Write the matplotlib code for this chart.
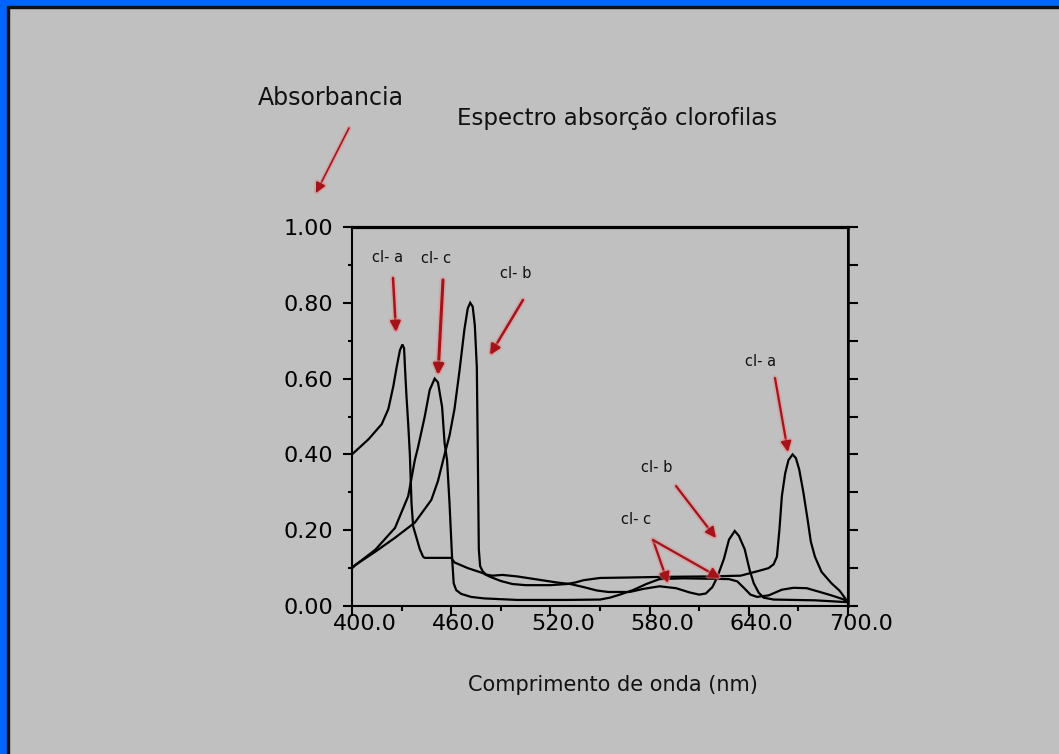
import numpy as np
import matplotlib
matplotlib.use("Agg")
import matplotlib.pyplot as plt
import matplotlib.patheffects as pe
import matplotlib.transforms as mtrans
from matplotlib.patches import Rectangle

# ---------------- data ----------------
chl_a_nm = [400, 405, 410, 414, 418, 422, 425, 427, 429, 430.5, 431.5, 432.2, 433, 434, 435, 436,
            437, 439, 441, 443, 444, 452, 460, 462, 470, 479, 483, 490, 497, 505, 520, 530, 535,
            540, 550, 565, 590, 615, 635, 642, 648, 652, 655, 657, 658.5, 660, 662, 664, 666.5,
            668.5, 670.5, 673, 675.5, 677.5, 680, 684, 690, 695, 700]
chl_a_abs = [0.40, 0.42, 0.44, 0.46, 0.48, 0.52, 0.58, 0.63, 0.675, 0.69, 0.68, 0.615, 0.55, 0.48,
             0.40, 0.27, 0.21, 0.18, 0.15, 0.13, 0.127, 0.127, 0.127, 0.115, 0.10, 0.087, 0.078,
             0.066, 0.058, 0.055, 0.055, 0.058, 0.062, 0.068, 0.074, 0.075, 0.077, 0.078, 0.08,
             0.088, 0.095, 0.10, 0.11, 0.13, 0.20, 0.29, 0.35, 0.385, 0.40, 0.39, 0.36, 0.30,
             0.23, 0.17, 0.13, 0.09, 0.06, 0.04, 0.01]

chl_b_nm = [400, 402, 414, 426, 438, 448, 452, 456, 459, 462, 465, 468, 470, 471.5, 473, 474.3,
            475.5, 476.1, 476.7, 477.5, 479, 481, 485, 491, 500, 506, 515, 524, 532, 540, 548,
            555, 568, 576, 586, 596, 604, 610, 614, 618, 621, 625, 628, 631.5, 634, 637.5,
            640.5, 643, 646, 649, 655, 680, 700]
chl_b_abs = [0.10, 0.108, 0.143, 0.18, 0.22, 0.28, 0.33, 0.40, 0.45, 0.52, 0.62, 0.73, 0.785,
             0.80, 0.79, 0.74, 0.63, 0.40, 0.15, 0.105, 0.092, 0.083, 0.08, 0.082, 0.078, 0.074,
             0.068, 0.062, 0.058, 0.05, 0.041, 0.037, 0.037, 0.045, 0.052, 0.047, 0.036, 0.03,
             0.033, 0.05, 0.077, 0.125, 0.175, 0.198, 0.185, 0.15, 0.095, 0.06, 0.035, 0.022,
             0.017, 0.015, 0.01]

chl_c_nm = [400, 402, 414, 426, 434, 438, 440, 444, 447, 450, 452, 454.5, 456, 457.5, 459, 460.5,
            461.5, 463, 466, 472, 480, 490, 500, 530, 550, 556, 562, 570, 578, 586, 600, 615,
            628, 633, 637, 641, 645, 652, 660, 667, 675, 683, 690, 697, 700]
chl_c_abs = [0.10, 0.108, 0.148, 0.206, 0.29, 0.385, 0.42, 0.50, 0.57, 0.60, 0.59, 0.525, 0.43,
             0.385, 0.27, 0.13, 0.06, 0.042, 0.032, 0.024, 0.02, 0.018, 0.016, 0.016, 0.017,
             0.022, 0.03, 0.042, 0.058, 0.071, 0.073, 0.072, 0.071, 0.065, 0.048, 0.03, 0.024,
             0.028, 0.043, 0.048, 0.047, 0.037, 0.028, 0.018, 0.01]

x_ticks = [400, 460, 520, 580, 640, 700]
x_tick_labels = ["400.0", "460.0", "520.0", "580.0", "640.0", "700.0"]
y_ticks = [0.0, 0.2, 0.4, 0.6, 0.8, 1.0]
y_tick_labels = ["0.00", "0.20", "0.40", "0.60", "0.80", "1.00"]

title = "Espectro absorção clorofilas"
y_title = "Absorbancia"
x_title = "Comprimento de onda (nm)"

# ---------------- figure ----------------
W, H = 1059, 754
BG = "#c0c0c0"
RED = "#a5121a"
fig = plt.figure(figsize=(W / 100, H / 100), dpi=100, facecolor=BG)

def fp(px, py):
    """image pixel (top-left origin) -> figure fraction"""
    return (px / W, 1 - py / H)

# blue frame left and top
fig.patches.append(Rectangle((0, 0), 7 / W, 1, transform=fig.transFigure, color="#0064ff", zorder=0))
fig.patches.append(Rectangle((7 / W, 0), 2 / W, 1 - 7 / H, transform=fig.transFigure, color="#101010", zorder=0))
fig.patches.append(Rectangle((0, 1 - 6 / H), 1, 6 / H, transform=fig.transFigure, color="#0064ff", zorder=0))
fig.patches.append(Rectangle((7 / W, 1 - 8 / H), 1, 2 / H, transform=fig.transFigure, color="#101010", zorder=0))

left, right = 352 / W, 848 / W
bottom, top = 1 - 606 / H, 1 - 227 / H
ax = fig.add_axes([left, bottom, right - left, top - bottom])
ax.set_facecolor(BG)

for nm, ab in ((chl_a_nm, chl_a_abs), (chl_b_nm, chl_b_abs), (chl_c_nm, chl_c_abs)):
    ax.plot(nm, ab, color="black", lw=1.6, solid_joinstyle="miter")

ax.set_xlim(400, 700)
ax.set_ylim(0, 1)

ax.set_xticks(x_ticks)
ax.set_xticklabels(x_tick_labels)
ax.set_xticks(np.arange(430, 700, 60), minor=True)
ax.set_yticks(y_ticks)
ax.set_yticklabels(y_tick_labels)
ax.set_yticks(np.arange(0.1, 1.0, 0.2), minor=True)

ax.tick_params(axis="x", which="major", direction="out", length=7.5, width=1.5, pad=-2,
               labelsize=16, colors="black")
ax.tick_params(axis="x", which="minor", direction="out", length=3.5, width=1.5)
ax.tick_params(axis="y", which="major", direction="out", length=6.5, width=1.5, pad=7,
               labelsize=16)
ax.tick_params(axis="y", which="minor", direction="out", length=3, width=1.5)
ax.tick_params(top=False, right=False)

for lab in ax.get_xticklabels():
    lab.set_transform(lab.get_transform() + mtrans.ScaledTranslation(13 / 100, 0, fig.dpi_scale_trans))

for s in ("left", "bottom", "right"):
    ax.spines[s].set_linewidth(1.5)
ax.spines["top"].set_linewidth(2.3)

sec = ax.secondary_yaxis("right")
sec.set_yticks(np.arange(0, 1.01, 0.1))
sec.tick_params(direction="out", length=7, width=1.5, labelright=False)
sec.spines["right"].set_linewidth(1.8)

# ---------------- texts ----------------
fig.text(*fp(331, 98), y_title, fontsize=17, ha="center", va="center", color="#111111")
fig.text(*fp(617, 118), title, fontsize=16.5, ha="center", va="center", color="#111111")
fig.text(*fp(613, 685), x_title, fontsize=15, ha="center", va="center", color="#111111")

labels = [("cl- a", 388, 258), ("cl- c", 436, 259), ("cl- b", 516, 274),
          ("cl- a", 761, 361), ("cl- b", 657, 468), ("cl- c", 636, 519)]
for t, px, py in labels:
    fig.text(*fp(px, py), t, fontsize=10.5, ha="center", va="center", color="#111111")

arrows = [((349, 128), (316, 193), 1.2),
          ((393, 278), (396, 332), 1.8),
          ((443, 280), (438, 375), 2.2),
          ((523, 300), (490, 355), 1.8),
          ((775, 378), (788, 452), 1.6),
          ((676, 486), (716, 538), 1.6),
          ((653, 540), (668, 583), 1.6),
          ((653, 540), (720, 578), 1.6)]
for (tx, ty), (hx, hy), lw in arrows:
    ann = ax.annotate("", xy=fp(hx, hy), xycoords="figure fraction",
                      xytext=fp(tx, ty), textcoords="figure fraction",
                      annotation_clip=False,
                      arrowprops=dict(arrowstyle="-|>", mutation_scale=15, lw=lw,
                                      color=RED, shrinkA=0, shrinkB=0))
    ann.arrow_patch.set_path_effects([pe.Stroke(linewidth=lw + 2.5, foreground="#e08a8a", alpha=0.45),
                                      pe.Normal()])

fig.savefig("out.png", dpi=100, facecolor=BG)
